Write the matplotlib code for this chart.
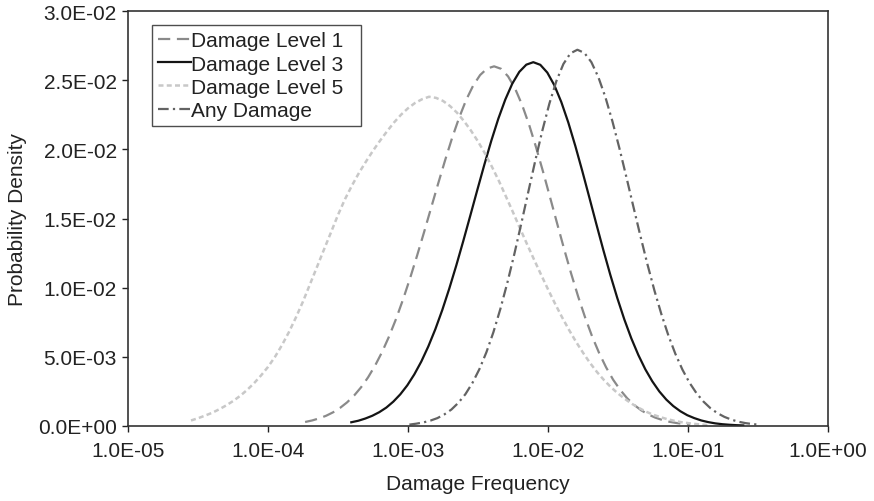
import numpy as np
import matplotlib
matplotlib.use("Agg")
import matplotlib.pyplot as plt
from matplotlib.ticker import FixedLocator, FuncFormatter, NullLocator

plt.rcParams['font.family'] = ['Liberation Sans', 'DejaVu Sans']

# ---- data (x given as log10 of damage frequency) ----
dl1_logf = [-3.735, -3.685, -3.635, -3.585, -3.535, -3.485, -3.435, -3.385, -3.335, -3.285,
            -3.235, -3.185, -3.135, -3.085, -3.035, -2.985, -2.935, -2.885, -2.835, -2.785,
            -2.735, -2.685, -2.635, -2.585, -2.535, -2.485, -2.435, -2.385, -2.335, -2.285,
            -2.235, -2.185, -2.135, -2.085, -2.035, -1.985, -1.935, -1.885, -1.835, -1.785,
            -1.735, -1.685, -1.635, -1.585, -1.535, -1.485, -1.435, -1.385, -1.335, -1.285,
            -1.235, -1.185, -1.135, -1.085, -1.035, -0.985]
dl1_pd = [0.00029, 0.00040, 0.00055, 0.00074, 0.00099, 0.00131, 0.00171, 0.00220, 0.00280, 0.00352,
          0.00437, 0.00535, 0.00648, 0.00775, 0.00916, 0.01069, 0.01232, 0.01402, 0.01577, 0.01751,
          0.01921, 0.02082, 0.02228, 0.02356, 0.02460, 0.02537, 0.02584, 0.02600, 0.02582, 0.02527,
          0.02439, 0.02321, 0.02178, 0.02014, 0.01837, 0.01652, 0.01465, 0.01280, 0.01103, 0.00937,
          0.00785, 0.00648, 0.00528, 0.00424, 0.00335, 0.00262, 0.00201, 0.00153, 0.00114, 0.00084,
          0.00061, 0.00044, 0.00031, 0.00022, 0.00015, 0.00010]

dl3_logf = [-3.405, -3.355, -3.305, -3.255, -3.205, -3.155, -3.105, -3.055, -3.005, -2.955,
            -2.905, -2.855, -2.805, -2.755, -2.705, -2.655, -2.605, -2.555, -2.505, -2.455,
            -2.405, -2.355, -2.305, -2.255, -2.205, -2.155, -2.105, -2.055, -2.005, -1.955,
            -1.905, -1.855, -1.805, -1.755, -1.705, -1.655, -1.605, -1.555, -1.505, -1.455,
            -1.405, -1.355, -1.305, -1.255, -1.205, -1.155, -1.105, -1.055, -1.005, -0.955,
            -0.905, -0.855, -0.805, -0.755, -0.705, -0.655, -0.605]
dl3_pd = [0.00027, 0.00038, 0.00054, 0.00074, 0.00100, 0.00133, 0.00176, 0.00229, 0.00294, 0.00373,
          0.00466, 0.00575, 0.00699, 0.00839, 0.00994, 0.01161, 0.01338, 0.01521, 0.01706, 0.01888,
          0.02062, 0.02221, 0.02360, 0.02475, 0.02560, 0.02612, 0.02630, 0.02611, 0.02555, 0.02464,
          0.02342, 0.02194, 0.02025, 0.01843, 0.01653, 0.01461, 0.01273, 0.01093, 0.00925, 0.00771,
          0.00634, 0.00514, 0.00410, 0.00323, 0.00250, 0.00191, 0.00144, 0.00107, 0.00078, 0.00057,
          0.00040, 0.00028, 0.00019, 0.00013, 0.00009, 0.00006, 0.00004]

dl5_logf = [-4.55, -4.50, -4.45, -4.40, -4.35, -4.30, -4.25, -4.20, -4.15, -4.10,
            -4.05, -4.00, -3.95, -3.90, -3.85, -3.80, -3.75, -3.70, -3.65, -3.60,
            -3.55, -3.50, -3.45, -3.40, -3.35, -3.30, -3.25, -3.20, -3.15, -3.10,
            -3.05, -3.00, -2.95, -2.90, -2.85, -2.80, -2.75, -2.70, -2.65, -2.60,
            -2.55, -2.50, -2.45, -2.40, -2.35, -2.30, -2.25, -2.20, -2.15, -2.10,
            -2.05, -2.00, -1.95, -1.90, -1.85, -1.80, -1.75, -1.70, -1.65, -1.60,
            -1.55, -1.50, -1.45, -1.40, -1.35, -1.30, -1.25, -1.20, -1.15, -1.10,
            -1.05, -1.00, -0.95, -0.90, -0.85]
dl5_pd = [0.00040, 0.00056, 0.00075, 0.00095, 0.00120, 0.00148, 0.00180, 0.00217, 0.00260, 0.00309,
          0.00365, 0.00427, 0.00500, 0.00585, 0.00680, 0.00786, 0.00900, 0.01025, 0.01150, 0.01276,
          0.01400, 0.01526, 0.01640, 0.01739, 0.01830, 0.01912, 0.01990, 0.02062, 0.02130, 0.02194,
          0.02250, 0.02297, 0.02335, 0.02362, 0.02380, 0.02372, 0.02350, 0.02313, 0.02265, 0.02204,
          0.02135, 0.02057, 0.01970, 0.01873, 0.01770, 0.01658, 0.01545, 0.01429, 0.01315, 0.01204,
          0.01095, 0.00988, 0.00885, 0.00787, 0.00695, 0.00609, 0.00530, 0.00456, 0.00390, 0.00332,
          0.00280, 0.00235, 0.00195, 0.00160, 0.00130, 0.00104, 0.00082, 0.00065, 0.00050, 0.00038,
          0.00028, 0.00021, 0.00015, 0.00010, 0.00007]

any_logf = [-2.99, -2.94, -2.89, -2.84, -2.79, -2.74, -2.69, -2.64, -2.59, -2.54,
            -2.49, -2.44, -2.39, -2.34, -2.29, -2.24, -2.19, -2.14, -2.09, -2.04,
            -1.99, -1.94, -1.89, -1.84, -1.79, -1.74, -1.69, -1.64, -1.59, -1.54,
            -1.49, -1.44, -1.39, -1.34, -1.29, -1.24, -1.19, -1.14, -1.09, -1.04,
            -0.99, -0.94, -0.89, -0.84, -0.79, -0.74, -0.69, -0.64, -0.59, -0.54, -0.49]
any_pd = [0.00010, 0.00017, 0.00026, 0.00039, 0.00057, 0.00084, 0.00119, 0.00168, 0.00230, 0.00311,
          0.00411, 0.00533, 0.00678, 0.00847, 0.01037, 0.01245, 0.01467, 0.01696, 0.01922, 0.02137,
          0.02331, 0.02494, 0.02617, 0.02694, 0.02720, 0.02697, 0.02630, 0.02521, 0.02377, 0.02203,
          0.02008, 0.01799, 0.01585, 0.01374, 0.01170, 0.00980, 0.00808, 0.00654, 0.00521, 0.00408,
          0.00314, 0.00238, 0.00177, 0.00129, 0.00093, 0.00066, 0.00046, 0.00031, 0.00021, 0.00014,
          0.00009]

labels = ["Damage Level 1", "Damage Level 3", "Damage Level 5", "Any Damage"]
x_ticks = [1e-5, 1e-4, 1e-3, 1e-2, 1e-1, 1e0]
y_ticks = [0.0, 0.005, 0.010, 0.015, 0.020, 0.025, 0.030]

W, H = 874, 502
fig = plt.figure(figsize=(W / 100, H / 100), dpi=100)
ax = fig.add_axes([128 / W, 1 - 427 / H, 700 / W, 415 / H])

ax.plot(10 ** np.array(dl1_logf), dl1_pd, color='#8a8a8a', lw=1.6, dashes=(5.5, 3.0),
        label=labels[0])
ax.plot(10 ** np.array(dl3_logf), dl3_pd, color='#141414', lw=1.6, label=labels[1])
ax.plot(10 ** np.array(dl5_logf), dl5_pd, color='#c8c8c8', lw=1.8, dashes=(2.0, 1.3),
        label=labels[2])
ax.plot(10 ** np.array(any_logf), any_pd, color='#636363', lw=1.6, dashes=(4.8, 1.9, 1.0, 1.9),
        label=labels[3])

ax.set_xscale('log')
ax.set_xlim(1e-5, 1)
ax.set_ylim(0, 0.03)
ax.xaxis.set_major_locator(FixedLocator(x_ticks))
ax.xaxis.set_minor_locator(NullLocator())
ax.yaxis.set_major_locator(FixedLocator(y_ticks))
fmt = FuncFormatter(lambda v, p: f"{v:.1E}")
ax.xaxis.set_major_formatter(fmt)
ax.yaxis.set_major_formatter(fmt)

ax.tick_params(axis='both', direction='out', length=4, width=1.0, colors='#222222',
               labelsize=15)
ax.tick_params(axis='x', pad=7)
ax.tick_params(axis='y', pad=4)
for s in ax.spines.values():
    s.set_linewidth(1.2)
    s.set_color('#333333')

ax.set_xlabel("Damage Frequency", fontsize=15, color='#222222', labelpad=10)
ax.set_ylabel("Probability Density", fontsize=15, color='#222222', labelpad=8)

leg = ax.legend(loc='upper left', bbox_to_anchor=(0.034, 0.5, 209 / 700, 0.466),
                mode='expand', borderaxespad=0,
                fontsize=15, frameon=True, fancybox=False, handlelength=1.6,
                handletextpad=0.0, borderpad=0.3, labelspacing=0.2)
leg.get_frame().set_edgecolor('#222222')
leg.get_frame().set_linewidth(1.0)
for t in leg.get_texts():
    t.set_color('#222222')

fig.savefig("out.png", dpi=100)
